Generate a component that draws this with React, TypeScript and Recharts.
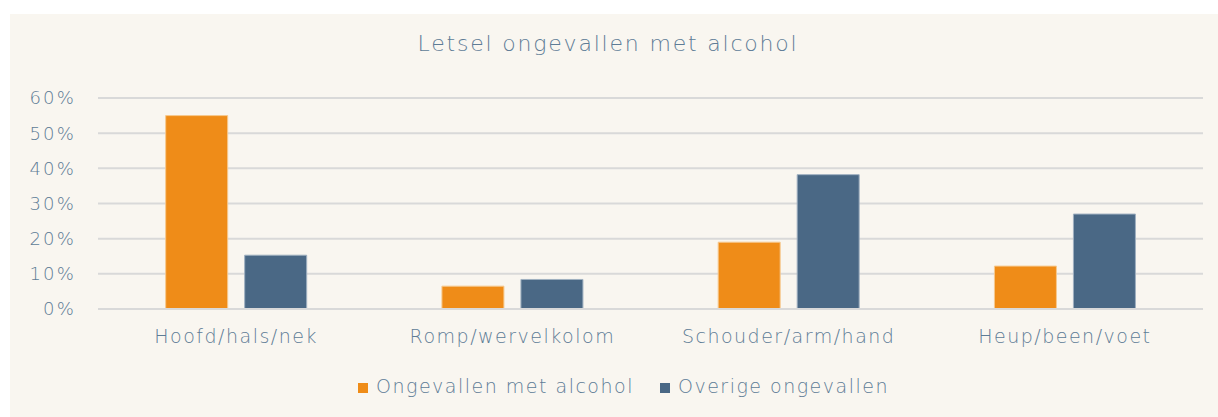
import React from 'react';
import { BarChart, Bar, XAxis, YAxis, CartesianGrid, Legend } from 'recharts';

// Data
const categories = ['Hoofd/hals/nek', 'Romp/wervelkolom', 'Schouder/arm/hand', 'Heup/been/voet'];
const metAlcohol = [55, 6.5, 19, 12.2];
const overige = [15.3, 8.4, 38.2, 27];
const yTicks = [0, 10, 20, 30, 40, 50, 60];

const data = categories.map((name, i) => ({
  name,
  alcohol: metAlcohol[i],
  overige: overige[i],
}));

const TEXT_COLOR = '#5e7c96';
const FONT = '"DejaVu Sans", sans-serif';

export default function App() {
  return (
    <div
      style={{
        position: 'absolute',
        left: 10,
        top: 14,
        width: 1208,
        height: 403,
        background: '#f9f6f0',
        fontFamily: FONT,
      }}
    >
      <div
        style={{
          position: 'absolute',
          top: 17,
          left: -6,
          width: '100%',
          textAlign: 'center',
          fontSize: 22,
          color: TEXT_COLOR,
          fontWeight: 200,
          letterSpacing: 1.8,
        }}
      >
        Letsel ongevallen met alcohol
      </div>
      <BarChart
        width={1208}
        height={403}
        data={data}
        margin={{ top: 84, right: 15, left: 0, bottom: 20 }}
        barGap={17}
        barCategoryGap="24.5%"
      >
        <CartesianGrid horizontal vertical={false} stroke="#d9d9d9" strokeWidth={2} />
        <XAxis
          dataKey="name"
          tickLine={false}
          axisLine={{ stroke: '#d9d9d9', strokeWidth: 2 }}
          tick={{ fill: TEXT_COLOR, fontSize: 19, fontWeight: 200, letterSpacing: 1.5 }}
          tickMargin={15}
          height={66}
        />
        <YAxis
          domain={[0, 60]}
          ticks={yTicks}
          tickFormatter={(v: number) => `${v}%`}
          tickLine={false}
          axisLine={false}
          tick={{ fill: TEXT_COLOR, fontSize: 18, fontWeight: 200, letterSpacing: 2.2 }}
          tickMargin={16}
          width={88}
        />
        <Legend
          verticalAlign="bottom"
          iconType="square"
          iconSize={10}
          wrapperStyle={{ fontSize: 19, color: TEXT_COLOR, fontWeight: 200, letterSpacing: 1.5, paddingLeft: 30 }}
          formatter={(value: string) => (
            <span style={{ color: TEXT_COLOR, marginLeft: 4, marginRight: 16 }}>{value}</span>
          )}
        />
        <Bar dataKey="alcohol" name="Ongevallen met alcohol" fill="#ef8c18" stroke="#f6c98f" strokeWidth={1} isAnimationActive={false} />
        <Bar dataKey="overige" name="Overige ongevallen" fill="#4a6885" stroke="#9fb0c0" strokeWidth={1} isAnimationActive={false} />
      </BarChart>
    </div>
  );
}
